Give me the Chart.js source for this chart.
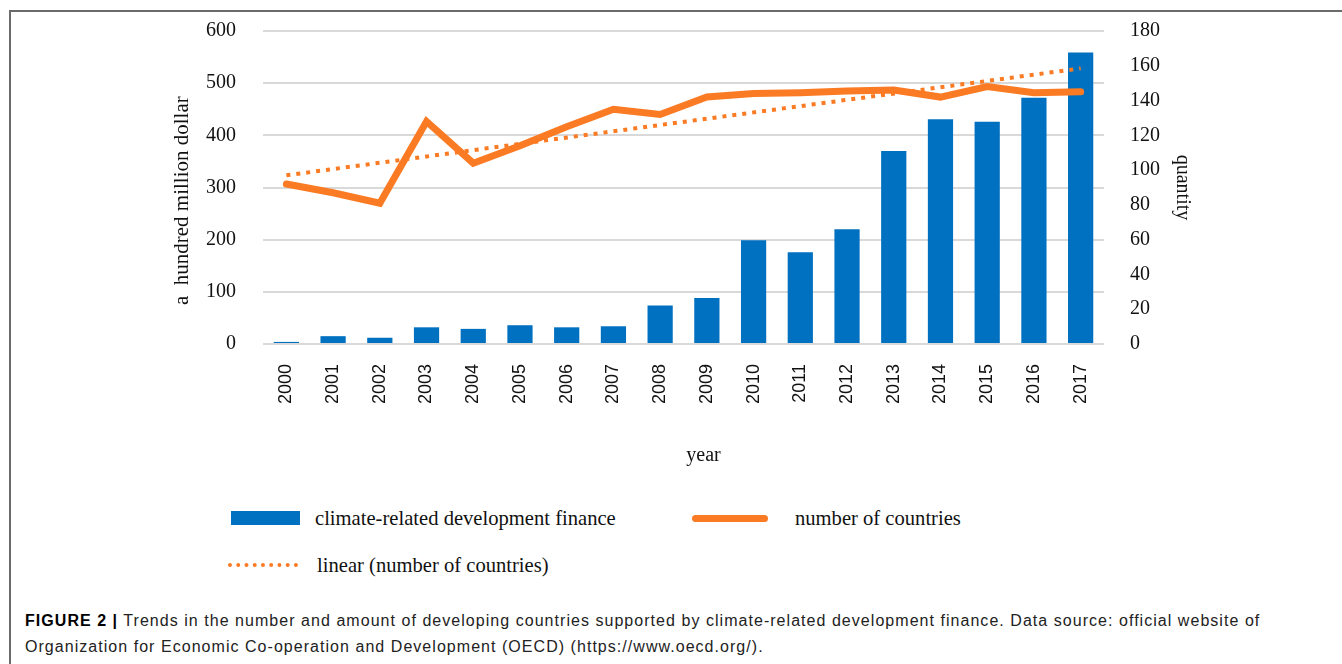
<!DOCTYPE html>
<html>
<head>
<meta charset="utf-8">
<script src="https://cdn.jsdelivr.net/npm/chart.js@4/dist/chart.umd.min.js"></script>
<style>
  html, body { margin: 0; padding: 0; background: #fff; }
  body { width: 1342px; height: 664px; position: relative; overflow: hidden; }
  #frame { position: absolute; left: 9px; top: 10px; width: 1400px; height: 700px;
           border-left: 2px solid #6b6b6b; border-top: 2px solid #6b6b6b; }
  #wrap { position: absolute; left: 0; top: 0; width: 1342px; height: 480px; }
  .lg { position: absolute; font-family: "Liberation Serif", "Times New Roman", serif;
        font-size: 20.6px; line-height: 24px; color: #111; white-space: nowrap; }
  .sw-bar { position: absolute; left: 231px; top: 511px; width: 69px; height: 14px; background: #0070C0; }
  .sw-line { position: absolute; left: 692px; top: 514.5px; width: 76px; height: 7px; background: #FB7B24; border-radius: 4px; }
  .sw-dot { position: absolute; left: 228px; top: 563px; width: 70px; height: 0; border-top: 4px dotted #FB7B24; }
  #caption { position: absolute; left: 25px; top: 608px; font-family: "Liberation Sans", Arial, sans-serif;
             font-size: 16px; line-height: 26px; letter-spacing: 1.04px; color: #222; white-space: nowrap; }
  #caption b { color: #000; }
</style>
</head>
<body>
<div id="frame"></div>
<div id="wrap"><canvas id="c" width="1342" height="480"></canvas></div>

<div class="sw-bar"></div>
<div class="lg" style="left:315px; top:506px;">climate-related development finance</div>
<div class="sw-line"></div>
<div class="lg" style="left:795px; top:506px;">number of countries</div>
<div class="sw-dot"></div>
<div class="lg" style="left:317px; top:553px;">linear (number of countries)</div>

<div id="caption"><b>FIGURE 2 |</b> Trends in the number and amount of developing countries supported by climate-related development finance. Data source: official website of<br>Organization for Economic Co-operation and Development (OECD) (https://www.oecd.org/).</div>

<script>
const years = ['2000','2001','2002','2003','2004','2005','2006','2007','2008','2009','2010','2011','2012','2013','2014','2015','2016','2017'];
// climate-related development finance (a hundred million dollar), left axis
const financeValues = [4, 15, 12, 32, 29, 36, 32, 34, 74, 88, 199, 176, 220, 370, 431, 426, 472, 559];
// number of countries (quantity), right axis
const countryCounts = [92, 87, 81, 128, 104, 114, 125, 135, 132, 142, 144, 144.5, 145.5, 146, 142, 148, 144.5, 145];
// linear trend of number of countries: end points
const trendValues = [97, null, null, null, null, null, null, null, null, null, null, null, null, null, null, null, null, 158.5];

const leftTicks = { min: 0, max: 600, step: 100 };
const rightTicks = { min: 0, max: 180, step: 20 };

const serif = "'Liberation Serif', 'Times New Roman', serif";
const orange = '#FB7B24';
const nb = (n) => '\u00a0'.repeat(n);

new Chart(document.getElementById('c'), {
  type: 'bar',
  data: {
    labels: years,
    datasets: [
      { type: 'bar', label: 'climate-related development finance', data: financeValues,
        backgroundColor: '#0070C0', yAxisID: 'y', order: 3,
        barPercentage: 0.54, categoryPercentage: 1.0 },
      { type: 'line', label: 'number of countries', data: countryCounts,
        borderColor: orange, backgroundColor: orange, borderWidth: 7, pointRadius: 0,
        tension: 0, borderCapStyle: 'round', yAxisID: 'y1', order: 2 },
      { type: 'line', label: 'linear (number of countries)', data: trendValues,
        borderColor: orange, borderWidth: 4, borderDash: [4, 6], pointRadius: 0,
        spanGaps: true, tension: 0, yAxisID: 'y1', order: 1 }
    ]
  },
  options: {
    responsive: false,
    animation: false,
    layout: { padding: { left: 170, right: 148, top: 31, bottom: 0 } },
    plugins: { legend: { display: false }, tooltip: { enabled: false } },
    scales: {
      x: {
        grid: { display: false, drawTicks: false },
        border: { display: false },
        ticks: { minRotation: 90, maxRotation: 90, padding: 20, color: '#111',
                 font: { family: "'Liberation Sans', Arial, sans-serif", size: 18 } },
        title: { display: true, text: nb(8) + 'year', color: '#111', padding: { top: 0, bottom: 12 },
                 font: { family: serif, size: 20 } },
        afterFit: (s) => { s.height = 136; }
      },
      y: {
        position: 'left', min: leftTicks.min, max: leftTicks.max,
        grid: { color: '#d9d9d9', lineWidth: 2, drawTicks: true, tickLength: 27, tickColor: 'transparent' },
        border: { display: false },
        ticks: { stepSize: leftTicks.step, padding: 0, color: '#111', font: { family: serif, size: 20 } },
        title: { display: true, text: 'a' + nb(2) + 'hundred million dollar' + nb(5), color: '#111', padding: 0,
                 font: { family: serif, size: 21 } },
        afterFit: (s) => { s.width = 93; }
      },
      y1: {
        position: 'right', min: rightTicks.min, max: rightTicks.max,
        grid: { display: true, drawOnChartArea: false, color: 'transparent', drawTicks: true, tickLength: 26, tickColor: 'transparent' },
        border: { display: false },
        ticks: { stepSize: rightTicks.step, padding: 0, color: '#111', font: { family: serif, size: 20 } },
        title: { display: true, text: 'quantity', color: '#111', padding: 0,
                 font: { family: serif, size: 20 } },
        afterFit: (s) => { s.width = 90; }
      }
    }
  }
});
</script>
</body>
</html>
